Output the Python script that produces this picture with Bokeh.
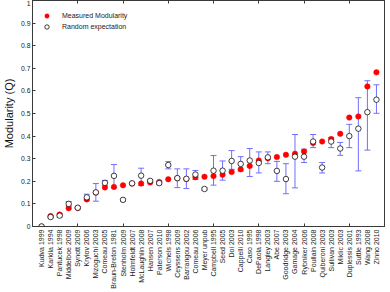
from math import pi
from bokeh.plotting import figure
from bokeh.models import (ColumnDataSource, FixedTicker, LinearAxis, Range1d,
                          Whisker, TeeHead, Legend, LegendItem)
from bokeh.embed import file_html
from bokeh.resources import INLINE

studies = ["Kudva 1999", "Karkila 1994", "Pantucek 1998", "Middelboe 2009",
           "Synott 2009", "Krylov 2006", "Mizoguchi 2003", "Comeau 2005",
           "Braun-Breton 1981", "Stenholm 2009", "Holmfeldt 2007",
           "McLaughlin 2008", "Hansen 2007", "Paterson 2010", "Wichels 1998",
           "Ceyssens 2009", "Barrangou 2002", "Comeau 2006", "Meyer unpub",
           "Campbell 1995", "Seed 2005", "Doi 2003", "Cappelli 2010",
           "Caso 1995", "DePaola 1998", "Langley 2003", "Abe 2007",
           "Goodridge 2003", "Gamage 2004", "Rybniker 2006", "Poullain 2008",
           "Quiberoni 2003", "Sullivan 2003", "Miklic 2003", "Duplessis 2001",
           "Suttle 1993", "Wang 2008", "Zinno 2010"]

measured = [0.0, 0.046, 0.053, 0.081, 0.082, 0.120, 0.150, 0.173, 0.175,
            0.182, 0.190, 0.190, 0.195, 0.197, 0.209, 0.213, 0.210, 0.218,
            0.220, 0.223, 0.229, 0.241, 0.253, 0.268, 0.292, 0.302, 0.307,
            0.317, 0.322, 0.332, 0.370, 0.376, 0.387, 0.410, 0.482, 0.487,
            0.620, 0.682]

random_exp = [0.0, 0.042, 0.048, 0.100, 0.083, 0.129, 0.151, 0.193, 0.224,
              0.118, 0.191, 0.225, 0.202, 0.192, 0.272, 0.214, 0.211, 0.230,
              0.166, 0.247, 0.247, 0.290, 0.277, 0.292, 0.281, 0.306, 0.246,
              0.210, 0.309, 0.309, 0.376, 0.261, 0.376, 0.345, 0.400, 0.433,
              0.506, 0.561]

random_low = [0.0, 0.038, 0.041, 0.090, 0.080, 0.116, 0.112, 0.180, 0.172,
              0.113, 0.187, 0.182, 0.197, 0.185, 0.255, 0.172, 0.168, 0.208,
              0.161, 0.183, 0.205, 0.253, 0.245, 0.221, 0.237, 0.278, 0.200,
              0.145, 0.171, 0.283, 0.349, 0.237, 0.349, 0.315, 0.349, 0.246,
              0.338, 0.501]

random_high = [0.0, 0.046, 0.056, 0.110, 0.086, 0.143, 0.190, 0.204, 0.274,
               0.123, 0.195, 0.258, 0.207, 0.200, 0.287, 0.255, 0.255, 0.248,
               0.171, 0.314, 0.290, 0.336, 0.309, 0.345, 0.330, 0.330, 0.288,
               0.278, 0.407, 0.342, 0.407, 0.283, 0.394, 0.372, 0.452, 0.570,
               0.645, 0.627]

y_ticks = [0, 0.1, 0.2, 0.3, 0.4, 0.5, 0.6, 0.7, 0.8, 0.9, 1]
y_tick_labels = ["0", "0.1", "0.2", "0.3", "0.4", "0.5", "0.6", "0.7", "0.8", "0.9", "1"]
x_minor_ticks = [5, 10, 15, 20, 25, 30, 35]

positions = list(range(1, len(studies) + 1))

src = ColumnDataSource(dict(x=positions, measured=measured, rnd=random_exp,
                            lo=random_low, hi=random_high))

FONT = "Liberation Sans"
AX = "#3a3a3a"

p = figure(width=385, height=291, x_range=Range1d(0, len(studies) + 1),
           y_range=Range1d(0, 1), output_backend="svg", toolbar_location=None,
           min_border=0, min_border_left=23, min_border_right=0,
           min_border_top=0, min_border_bottom=40)
p.background_fill_color = "white"
p.border_fill_color = "white"
p.outline_line_color = AX
p.xgrid.grid_line_color = None
p.ygrid.grid_line_color = None

# bottom axis with study names, inward ticks every fifth study
xa = p.xaxis[0]
xa.ticker = FixedTicker(ticks=positions, minor_ticks=x_minor_ticks)
xa.major_label_overrides = {i: s for i, s in zip(positions, studies)}
xa.major_label_orientation = pi / 2
xa.major_tick_line_color = None
xa.major_tick_in = 0
xa.major_tick_out = 0
xa.minor_tick_in = 3
xa.minor_tick_out = 0
xa.minor_tick_line_color = AX
xa.axis_line_color = AX
xa.major_label_text_font = FONT
xa.major_label_text_font_size = "7px"
xa.major_label_text_color = "#222222"
xa.major_label_standoff = 3

ya = p.yaxis[0]
ya.ticker = FixedTicker(ticks=y_ticks)
ya.major_label_overrides = {t: l for t, l in zip(y_ticks, y_tick_labels)}
ya.major_tick_in = 3
ya.major_tick_out = 0
ya.minor_tick_line_color = None
ya.major_tick_line_color = AX
ya.axis_line_color = AX
ya.major_label_text_font = FONT
ya.major_label_text_font_size = "6.8px"
ya.major_label_text_color = "#222222"
ya.major_label_standoff = 2
ya.axis_label = "Modularity (Q)"
ya.axis_label_text_font = FONT
ya.axis_label_text_font_size = "11px"
ya.axis_label_text_font_style = "normal"
ya.axis_label_text_color = "#111111"
ya.axis_label_standoff = 3

top = LinearAxis(ticker=FixedTicker(ticks=[], minor_ticks=x_minor_ticks),
                 minor_tick_in=3, minor_tick_out=0, minor_tick_line_color=AX,
                 major_tick_line_color=None, major_tick_in=0, major_tick_out=0,
                 axis_line_color=AX, major_label_standoff=0,
                 major_label_text_font_size="0px")
p.add_layout(top, "above")

BAR = "#6f6fff"
wh = Whisker(source=src, base="x", lower="lo", upper="hi", dimension="height",
             line_color=BAR, line_width=1,
             upper_head=TeeHead(size=6, line_color=BAR, line_width=1),
             lower_head=TeeHead(size=6, line_color=BAR, line_width=1),
             level="underlay")
p.add_layout(wh)

r_meas = p.scatter("x", "measured", source=src, size=5.5, marker="circle",
                   fill_color="#ff0000", line_color="#ff0000", line_width=0.5)
r_rand = p.scatter("x", "rnd", source=src, size=5.5, marker="circle",
                   fill_color="white", line_color="#111111", line_width=0.8)

legend = Legend(items=[LegendItem(label="Measured Modularity", renderers=[r_meas]),
                       LegendItem(label="Random expectation", renderers=[r_rand])],
                location=(0, 194), margin=0, padding=3, spacing=0,
                glyph_width=29, glyph_height=11, label_height=11,
                label_standoff=1, label_text_font=FONT,
                label_text_font_size="7px", label_text_color="#222222",
                border_line_color=None, background_fill_alpha=0)
p.add_layout(legend)

open("out.html", "w").write(file_html(p, INLINE))
